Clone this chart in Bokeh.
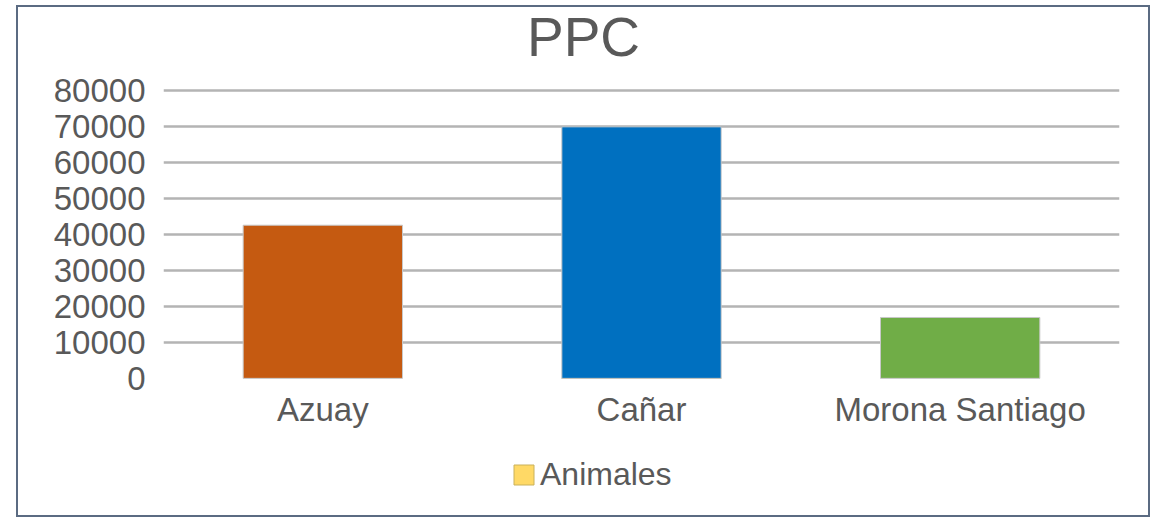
from bokeh.plotting import figure
from bokeh.models import ColumnDataSource, FixedTicker, NumeralTickFormatter, Legend, LegendItem, Range1d, Label
from bokeh.embed import file_html
from bokeh.resources import INLINE

# ---- data ----
categories = ["Azuay", "Cañar", "Morona Santiago"]
values = [42500, 69800, 16900]
bar_colors = ["#C55A11", "#0070C0", "#70AD47"]
y_ticks = [0, 10000, 20000, 30000, 40000, 50000, 60000, 70000, 80000]
title_text = "PPC"
legend_label = "Animales"
legend_color = "#FFD966"

FONT = "Liberation Sans"
TXT = "#595959"

source = ColumnDataSource(dict(cat=categories, val=values, color=bar_colors))

# the frame spans the whole box so the title, axis labels and legend sit inside it
p = figure(x_range=categories, y_range=Range1d(-36111, 102917),
           width=1134, height=512, output_backend="svg", toolbar_location=None,
           min_border_left=145, min_border_right=33, min_border_top=0, min_border_bottom=11)
p.styles = {"border": "2px solid #5B6B82", "transform": "translate(16px, 5px)"}

# zero-height proxy bar (hidden under the Cañar bar) that carries the legend swatch
legend_proxy = p.vbar(x=[categories[1]], top=[0], width=0.5,
                      fill_color=legend_color, line_color="#c9b15a")

p.vbar(x="cat", top="val", width=0.5, source=source, fill_color="color",
       line_color="#c8c8c8", line_width=1)

title = Label(x=420, y=472, x_units="screen", y_units="screen", text=title_text,
              text_font=FONT, text_font_size="55px", text_color=TXT,
              text_align="center", text_baseline="alphabetic")
p.add_layout(title)

p.outline_line_color = None
p.background_fill_color = "white"
p.border_fill_color = "white"

p.xgrid.grid_line_color = None
p.ygrid.grid_line_color = "#b4b4b4"
p.ygrid.grid_line_width = 2.5
p.ygrid.ticker = FixedTicker(ticks=y_ticks[1:])

p.yaxis.ticker = FixedTicker(ticks=y_ticks)
p.yaxis.formatter = NumeralTickFormatter(format="0")
p.yaxis.axis_line_color = None
p.yaxis.major_tick_line_color = None
p.yaxis.minor_tick_line_color = None
p.yaxis.major_label_text_font = FONT
p.yaxis.major_label_text_font_size = "33px"
p.yaxis.major_label_text_color = TXT
p.yaxis.major_label_standoff = 12

p.xaxis.fixed_location = 0
p.xaxis.axis_line_color = None
p.xaxis.major_tick_line_color = None
p.xaxis.major_label_text_font = FONT
p.xaxis.major_label_text_font_size = "33px"
p.xaxis.major_label_text_color = TXT
p.xaxis.major_label_standoff = 7

legend = Legend(items=[LegendItem(label=legend_label, renderers=[legend_proxy])],
                location=(348, 15), orientation="horizontal",
                label_text_font=FONT, label_text_font_size="32px", label_text_color=TXT,
                glyph_width=25, glyph_height=25, label_standoff=4,
                padding=0, margin=0, border_line_alpha=0, background_fill_alpha=0)
p.add_layout(legend, "center")

open("out.html", "w").write(file_html(p, INLINE))
